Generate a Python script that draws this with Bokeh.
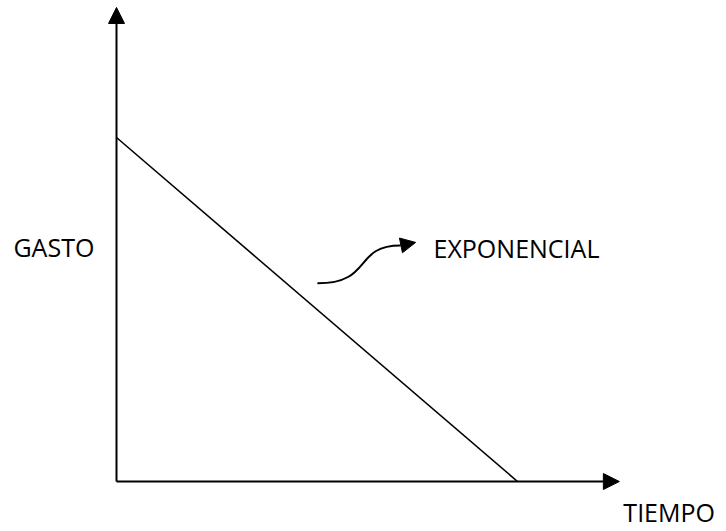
from bokeh.plotting import figure
from bokeh.models import Range1d, Arrow, NormalHead, ColumnDataSource
from bokeh.core.properties import value
from bokeh.embed import file_html
from bokeh.resources import INLINE

# ---- data (conceptual chart: gasto vs tiempo) ----
tiempo = [0, 10]
gasto = [10, 0]

eje_x_max = 12.54   # length of the TIEMPO axis arrow
eje_y_max = 13.78   # length of the GASTO axis arrow

label_text = ["GASTO", "EXPONENCIAL", "TIEMPO"]
label_x = [-2.57, 7.905, 12.64]
label_y = [6.83, 6.80, -0.90]

# curved pointer towards "EXPONENCIAL"
curva_x0 = [5.01]
curva_y0 = [5.76]
curva_cx0 = [6.40]
curva_cy0 = [5.76]
curva_cx1 = [5.90]
curva_cy1 = [6.86]
curva_x1 = [7.08]
curva_y1 = [6.86]
punta_x = 7.46
punta_y = 6.95

# ---- figure ----
p = figure(width=726, height=531, output_backend="svg", toolbar_location=None,
           x_range=Range1d(-116 / 40.1, 610 / 40.1),
           y_range=Range1d(-50 / 34.4, 481 / 34.4),
           x_axis_location=None, y_axis_location=None, min_border=0)
p.grid.visible = False
p.outline_line_color = None
p.background_fill_color = "white"
p.border_fill_color = "white"

# axes as arrows
p.add_layout(Arrow(x_start=0, y_start=0, x_end=eje_x_max, y_end=0,
                   line_width=2, line_color="black",
                   end=NormalHead(size=16, fill_color="black", line_color="black", line_width=1)))
p.add_layout(Arrow(x_start=0, y_start=0, x_end=0, y_end=eje_y_max,
                   line_width=2, line_color="black",
                   end=NormalHead(size=16, fill_color="black", line_color="black", line_width=1)))

# main line
p.line(tiempo, gasto, line_width=1.6, line_color="black")

# curved pointer
p.bezier(x0=curva_x0, y0=curva_y0, x1=curva_x1, y1=curva_y1,
         cx0=curva_cx0, cy0=curva_cy0, cx1=curva_cx1, cy1=curva_cy1,
         line_width=2, line_color="black")
p.add_layout(Arrow(x_start=curva_x1[0], y_start=curva_y1[0], x_end=punta_x, y_end=punta_y,
                   line_width=2, line_color="black",
                   end=NormalHead(size=15, fill_color="black", line_color="black", line_width=1)))

# labels
src = ColumnDataSource(dict(x=label_x, y=label_y, text=label_text))
p.text(x="x", y="y", text="text", source=src,
       text_font=value("Open Sans"), text_font_size="25px",
       text_baseline="alphabetic", text_align="left", text_color="black")

open("out.html", "w").write(file_html(p, INLINE))
